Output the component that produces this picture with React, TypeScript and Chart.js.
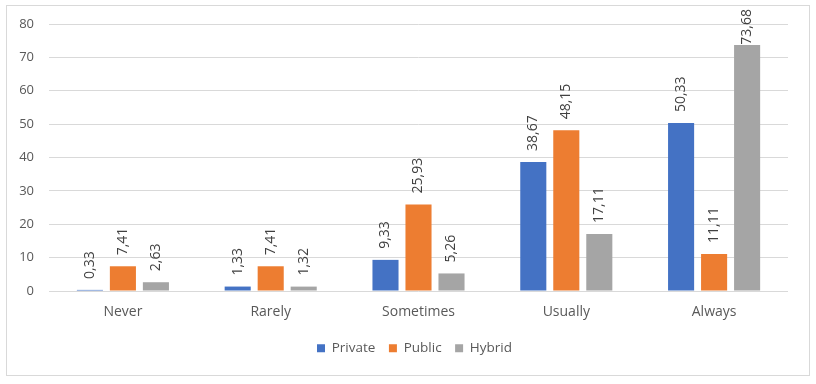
import React, { useEffect, useRef } from "react";
import { Chart, registerables } from "chart.js";

Chart.register(...registerables);

const categories = ["Never", "Rarely", "Sometimes", "Usually", "Always"];
const seriesNames = ["Private", "Public", "Hybrid"];
const privateValues = [0.33, 1.33, 9.33, 38.67, 50.33];
const publicValues = [7.41, 7.41, 25.93, 48.15, 11.11];
const hybridValues = [2.63, 1.32, 5.26, 17.11, 73.68];
const seriesColors = ["#4472C4", "#ED7D31", "#A5A5A5"];
const yTicks = [0, 10, 20, 30, 40, 50, 60, 70, 80];

const FONT = "'Open Sans'";
const TEXT = "#595959";

const fmt = (v: number) => v.toFixed(2).replace(".", ",");

const frame = {
  id: "frame",
  beforeDraw(chart: any) {
    const { ctx, width, height } = chart;
    ctx.save();
    ctx.fillStyle = "#ffffff";
    ctx.fillRect(0, 0, width, height);
    ctx.strokeStyle = "#d9d9d9";
    ctx.lineWidth = 1;
    ctx.strokeRect(6.5, 5.5, 803, 370);
    ctx.restore();
  },
};

const labels = {
  id: "valueLabels",
  afterDatasetsDraw(chart: any) {
    const { ctx } = chart;
    ctx.save();
    ctx.font = `14px ${FONT}`;
    ctx.fillStyle = "#404040";
    ctx.textAlign = "left";
    ctx.textBaseline = "middle";
    chart.data.datasets.forEach((ds: any, di: number) => {
      const meta = chart.getDatasetMeta(di);
      meta.data.forEach((el: any, i: number) => {
        const txt = fmt(ds.data[i]);
        const w = ctx.measureText(txt).width;
        let y = el.y - 11;
        if (y - w < 9) y = 9 + w;
        ctx.save();
        ctx.translate(el.x, y);
        ctx.rotate(-Math.PI / 2);
        ctx.fillText(txt, 0, 0);
        ctx.restore();
      });
    });
    ctx.restore();
  },
};

export default function App() {
  const ref = useRef<HTMLCanvasElement>(null);
  useEffect(() => {
    if (!ref.current) return;
    const chart = new Chart(ref.current, {
      type: "bar",
      data: {
        labels: categories,
        datasets: [privateValues, publicValues, hybridValues].map((d, i) => ({
          label: seriesNames[i],
          data: d,
          backgroundColor: seriesColors[i],
          borderWidth: 0,
          barPercentage: 0.79,
          categoryPercentage: 0.67,
        })),
      },
      options: {
        animation: false,
        responsive: false,
        maintainAspectRatio: false,
        layout: { padding: { top: 24, right: 0, bottom: 19, left: 13 } },
        plugins: {
          tooltip: { enabled: false },
          legend: {
            position: "bottom",
            labels: {
              boxWidth: 8,
              boxHeight: 8,
              padding: 13.5,
              color: TEXT,
              font: { family: FONT, size: 13.5 },
            },
          },
        },
        scales: {
          x: {
            grid: { display: false, drawTicks: false },
            border: { display: false },
            ticks: { color: TEXT, font: { family: FONT, size: 14 }, padding: 13 },
            afterFit: (s: any) => {
              s.height = 37;
            },
          },
          y: {
            min: 0,
            max: 80,
            afterBuildTicks: (s: any) => {
              s.ticks = yTicks.map((v) => ({ value: v }));
            },
            afterFit: (s: any) => {
              s.width = 36;
            },
            grid: { color: "#d9d9d9", drawTicks: false },
            border: { display: false },
            ticks: { color: TEXT, font: { family: FONT, size: 13 }, padding: 15 },
          },
          yRight: {
            type: "linear",
            position: "right",
            display: true,
            grid: { display: false, drawTicks: false },
            border: { display: false },
            ticks: { display: false },
            afterFit: (s: any) => {
              s.width = 28;
            },
          },
        },
      },
      plugins: [frame, labels],
    });
    return () => chart.destroy();
  }, []);
  return (
    <div style={{ position: "absolute", left: 0, top: 0, width: 816, height: 384 }}>
      <canvas ref={ref} width={816} height={384} style={{ display: "block" }} />
    </div>
  );
}
